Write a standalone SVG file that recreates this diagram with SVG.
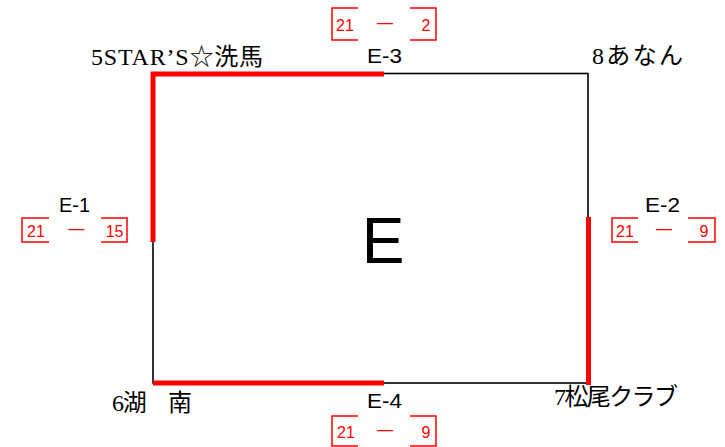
<svg xmlns="http://www.w3.org/2000/svg" width="725" height="447" viewBox="0 0 725 447">
<style>
.edge{fill:none;stroke:#000;stroke-width:1.6}
.win{fill:none;stroke:#ff0000;stroke-width:5;stroke-linecap:butt;stroke-linejoin:miter}
.br{fill:none;stroke:#ff0000;stroke-width:1.5}
.sc{font-family:"Liberation Sans",Arial,sans-serif;font-size:16px;fill:#ff0000}
.dash{font-family:"Liberation Sans",Arial,sans-serif;font-size:16px;fill:#ff0000;text-anchor:middle}
.ml{font-family:"Liberation Sans",Arial,sans-serif;font-size:20px;fill:#000;text-anchor:middle}
.team{font-family:"Liberation Serif","Noto Sans CJK JP",serif;font-size:24px;fill:#000}
</style>
<rect width="725" height="447" fill="#fff"/>
<g id="connectors">
<rect class="edge" x="153" y="73.5" width="435" height="309.5"/>
<polyline class="win" points="153,242 153,74 384,74"/>
<line class="win" x1="153" y1="383" x2="384" y2="383"/>
<line class="win" x1="588.5" y1="217" x2="588.5" y2="385"/>
</g>
<g id="title"><text x="383" y="263" font-family="Liberation Sans,Arial,sans-serif" font-size="64" text-anchor="middle">E</text></g>
<g id="team-5star"><text class="team" x="91" y="65" textLength="172" lengthAdjust="spacing">5STAR’S☆洗馬</text></g>
<g id="team-8anan"><text class="team" x="592" y="63.5" textLength="91" lengthAdjust="spacing">8あなん</text></g>
<g id="team-6konan"><text class="team" x="112" y="411" textLength="80" lengthAdjust="spacing">6湖　南</text></g>
<g id="team-7matsuo"><text class="team" x="554" y="405" textLength="124" lengthAdjust="spacing">7松尾クラブ</text></g>
<g id="match-E3">
<text class="ml" x="384.5" y="63" textLength="35" lengthAdjust="spacingAndGlyphs">E-3</text>
<path class="br" d="M358,8 H332 V40 H358 M410,8 H436 V40 H410"/>
<text class="sc" x="336" y="31">21</text>
<text class="dash" x="385" y="27.5">—</text>
<text class="sc" x="430.5" y="31" text-anchor="end">2</text>
</g>
<g id="match-E4">
<text class="ml" x="384.5" y="408" textLength="35" lengthAdjust="spacingAndGlyphs">E-4</text>
<path class="br" d="M358,416 H332 V446 H358 M410,416 H436 V446 H410"/>
<text class="sc" x="337" y="438">21</text>
<text class="dash" x="385" y="434.5">—</text>
<text class="sc" x="430.5" y="438" text-anchor="end">9</text>
</g>
<g id="match-E1">
<text class="ml" x="74.5" y="212" textLength="31" lengthAdjust="spacingAndGlyphs">E-1</text>
<path class="br" d="M49,218 H22 V242 H49 M101,218 H127 V242 H101"/>
<text class="sc" x="27" y="237">21</text>
<text class="dash" x="76.5" y="233.5">—</text>
<text class="sc" x="123.5" y="237" text-anchor="end">15</text>
</g>
<g id="match-E2">
<text class="ml" x="662.5" y="212" textLength="35" lengthAdjust="spacingAndGlyphs">E-2</text>
<path class="br" d="M638,218 H612 V242 H638 M688,218 H715 V242 H688"/>
<text class="sc" x="616" y="237">21</text>
<text class="dash" x="664" y="233.5">—</text>
<text class="sc" x="708.5" y="237" text-anchor="end">9</text>
</g>
</svg>
